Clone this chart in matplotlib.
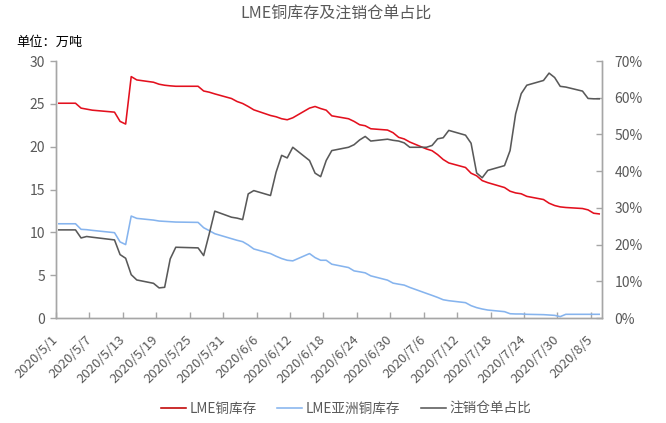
import matplotlib
matplotlib.use("Agg")
import matplotlib.pyplot as plt
import matplotlib.transforms as mtransforms
import pandas as pd
from matplotlib.ticker import FuncFormatter, MultipleLocator

plt.rcParams['font.family'] = ['Noto Sans CJK SC', 'DejaVu Sans']

# LME 交易日 (2020/5/8 与 5/25 休市)
dates = [
    "2020-05-01", "2020-05-04", "2020-05-05", "2020-05-06", "2020-05-07",
    "2020-05-11", "2020-05-12", "2020-05-13", "2020-05-14", "2020-05-15",
    "2020-05-18", "2020-05-19", "2020-05-20", "2020-05-21", "2020-05-22",
    "2020-05-26", "2020-05-27", "2020-05-28", "2020-05-29",
    "2020-06-01", "2020-06-02", "2020-06-03", "2020-06-04", "2020-06-05",
    "2020-06-08", "2020-06-09", "2020-06-10", "2020-06-11", "2020-06-12",
    "2020-06-15", "2020-06-16", "2020-06-17", "2020-06-18", "2020-06-19",
    "2020-06-22", "2020-06-23", "2020-06-24", "2020-06-25", "2020-06-26",
    "2020-06-29", "2020-06-30",
    "2020-07-01", "2020-07-02", "2020-07-03", "2020-07-06", "2020-07-07",
    "2020-07-08", "2020-07-09", "2020-07-10", "2020-07-13", "2020-07-14",
    "2020-07-15", "2020-07-16", "2020-07-17", "2020-07-20", "2020-07-21",
    "2020-07-22", "2020-07-23", "2020-07-24", "2020-07-27", "2020-07-28",
    "2020-07-29", "2020-07-30", "2020-07-31",
    "2020-08-03", "2020-08-04", "2020-08-05", "2020-08-06",
]

# 万吨
lme_stock = [
    25.07, 25.07, 24.5, 24.38, 24.26, 24.03, 22.95, 22.64, 28.18, 27.79,
    27.52, 27.29, 27.17, 27.1, 27.05, 27.05, 26.5, 26.36, 26.16,
    25.62, 25.27, 25.04, 24.69, 24.3, 23.64, 23.49, 23.26, 23.14, 23.37,
    24.5, 24.69, 24.45, 24.26, 23.6, 23.26, 22.95, 22.56, 22.44, 22.09,
    21.94, 21.63,
    21.09, 20.9, 20.54, 19.73, 19.53, 19.07, 18.5, 18.1, 17.57, 16.9,
    16.6, 16.04, 15.8, 15.23, 14.8, 14.6, 14.5, 14.2, 13.83, 13.4,
    13.13, 12.97, 12.9,
    12.78, 12.62, 12.23, 12.15,
]

asia_stock = [
    11.0, 11.0, 10.35, 10.31, 10.23, 9.96, 8.88, 8.57, 11.9, 11.63,
    11.43, 11.32, 11.28, 11.24, 11.2, 11.16, 10.54, 10.2, 9.84,
    9.26, 9.07, 8.91, 8.53, 8.06, 7.52, 7.21, 6.94, 6.74, 6.67,
    7.52, 7.05, 6.74, 6.74, 6.28, 5.89, 5.5, 5.39, 5.27, 4.92,
    4.42, 4.07,
    3.95, 3.84, 3.57, 2.87, 2.64, 2.4, 2.13, 2.02, 1.79, 1.44,
    1.21, 1.05, 0.93, 0.74, 0.5, 0.47, 0.47, 0.43, 0.39, 0.35,
    0.31, 0.16, 0.43,
    0.43, 0.43, 0.43, 0.43,
]

# %
cancel_ratio = [
    24.0, 24.0, 21.8, 22.2, 22.0, 21.27, 17.27, 16.27, 11.8, 10.36,
    9.45, 8.2, 8.36, 16.1, 19.27, 19.1, 17.0, 22.9, 29.1,
    27.45, 27.2, 26.8, 33.8, 34.7, 33.36, 39.7, 44.3, 43.6, 46.5,
    42.9, 39.45, 38.5, 42.9, 45.6, 46.5, 47.2, 48.5, 49.45, 48.2,
    48.7, 48.4,
    48.2, 47.7, 46.5, 46.5, 47.0, 48.8, 49.1, 51.1, 49.8, 47.6,
    39.5, 38.2, 40.2, 41.5, 45.6, 55.6, 61.1, 63.4, 64.7, 66.7,
    65.5, 63.1, 62.9,
    61.8, 59.8, 59.7, 59.7,
]

tick_dates = pd.date_range("2020-05-01", "2020-08-05", freq="6D")

red = '#e3101e'
blue = '#86b4ee'
gray = '#595959'
axis_col = '#a6a6a6'
txt_col = '#595959'

x = pd.to_datetime(dates) + pd.Timedelta(hours=12)  # 日期轴, 点位于刻度之间

fig = plt.figure(figsize=(6.66, 4.23), dpi=100)
ax = fig.add_axes([56 / 666, 1 - 318 / 423, 546 / 666, 257 / 423])
ax2 = ax.twinx()

l1, = ax.plot(x, lme_stock, color=red, lw=1.15)
l2, = ax.plot(x, asia_stock, color=blue, lw=1.15)
l3, = ax2.plot(x, cancel_ratio, color=gray, lw=1.15)

ax.set_ylim(0, 30)
ax.yaxis.set_major_locator(MultipleLocator(5))
ax2.set_ylim(0, 70)
ax2.yaxis.set_major_locator(MultipleLocator(10))
ax2.yaxis.set_major_formatter(FuncFormatter(lambda v, p: f"{v:.0f}%"))

ax.set_xlim(pd.Timestamp("2020-05-01"), pd.Timestamp("2020-08-07"))
ax.set_xticks(tick_dates)
ax.set_xticklabels([f"{d.year}/{d.month}/{d.day}" for d in tick_dates],
                   rotation=45, ha='right', va='center', rotation_mode='anchor')
# 标签末端稍向右移
shift = mtransforms.ScaledTranslation(4 / 100, 0, fig.dpi_scale_trans)
for lab in ax.get_xticklabels():
    lab.set_transform(lab.get_transform() + shift)

for a in (ax, ax2):
    a.spines['top'].set_visible(False)
    for s in ('left', 'right', 'bottom'):
        a.spines[s].set_color(axis_col)
        a.spines[s].set_linewidth(1.0)
    a.tick_params(colors=axis_col, labelcolor=txt_col, length=4, width=1.0)
ax.tick_params(axis='y', labelsize=10, pad=4, direction='out')
ax2.tick_params(axis='y', labelsize=10, pad=9, direction='in')
ax.tick_params(axis='x', labelsize=9.5, pad=14, direction='in')

fig.text(0.505, 1 - 14 / 423, "LME铜库存及注销仓单占比", ha='center', va='center',
         fontsize=11.5, color=txt_col)
fig.text(16 / 666, 1 - 42 / 423, "单位：万吨", ha='left', va='center',
         fontsize=9.5, color='black')

leg = fig.legend([l1, l2, l3], ["LME铜库存", "LME亚洲铜库存", "注销仓单占比"],
                 loc='center', bbox_to_anchor=(346 / 666, 1 - 409 / 423),
                 ncol=3, frameon=False, fontsize=9.8, handlelength=1.85,
                 columnspacing=1.5, handletextpad=0.25)
leg.get_lines()[0].set_color('#c00000')
for t in leg.get_texts():
    t.set_color(txt_col)

fig.savefig("out.png", dpi=100)
